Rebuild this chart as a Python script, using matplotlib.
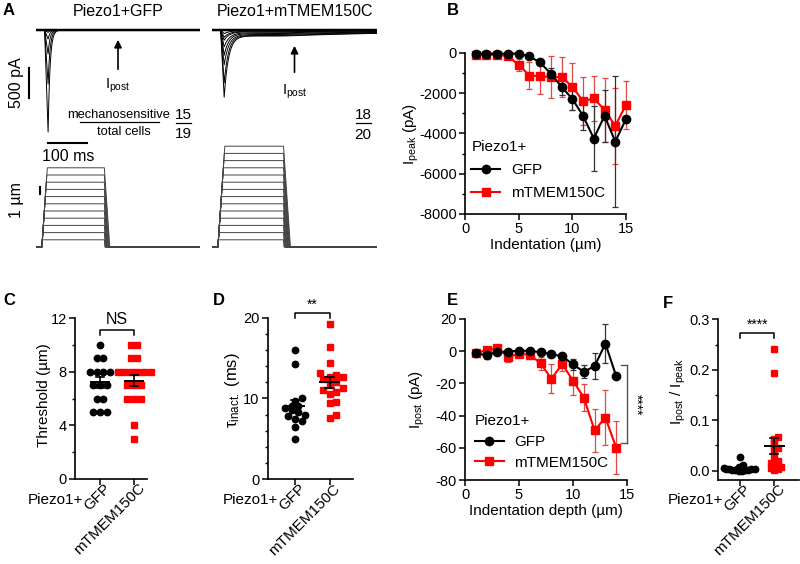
import numpy as np
import matplotlib.pyplot as plt
from matplotlib.lines import Line2D
from matplotlib.ticker import MultipleLocator, FormatStrFormatter
from matplotlib.transforms import ScaledTranslation

W, H = 800, 564
plt.rcParams['font.family'] = ['Liberation Sans', 'DejaVu Sans']
plt.rcParams['mathtext.fontset'] = 'custom'
plt.rcParams['mathtext.rm'] = 'Liberation Sans'
plt.rcParams['mathtext.it'] = 'Liberation Sans:italic'
plt.rcParams['mathtext.default'] = 'regular'
plt.rcParams['axes.unicode_minus'] = False
plt.rcParams['axes.linewidth'] = 1.2

RED = '#ff0000'
ERR_RED = '#e04848'

# ---- panel A: example sweeps (amplitudes pA, decay ms, sustained pA) ----
gfp_amp = [40, 150, 400, 900, 1700]
gfp_tau = [5, 5, 5, 5, 5]
gfp_post = [0, 0, 0, 0, 0]
tmem_amp = [60, 120, 170, 280, 420, 580, 880, 1120]
tmem_tau = [14, 14, 13, 13, 12, 12, 11, 11]
tmem_post = [10, 20, 30, 45, 60, 75, 90, 100]
gfp_steps = np.arange(1, 12)      # um
tmem_steps = np.arange(1, 15)     # um
ms_fraction = ['15', '19']
ms_fraction_tmem = ['18', '20']

# ---- panel B: peak current vs indentation ----
depth = np.arange(1, 16)
peak_gfp = [-30, -30, -30, -30, -30, -170, -470, -1030, -1680, -2280, -3120, -4250, -3120, -4400, -3280]
peak_gfp_sem = [20, 20, 20, 20, 30, 60, 150, 300, 400, 550, 700, 1600, 1300, 3250, 120]
peak_tmem = [-80, -80, -80, -170, -580, -1120, -1150, -1200, -1200, -1670, -2400, -2250, -2830, -3620, -2570]
peak_tmem_sem = [20, 20, 20, 60, 290, 670, 870, 1050, 1000, 1170, 1200, 1130, 1600, 1900, 1200]

# ---- panel E: post current vs indentation ----
post_depth = np.arange(1, 15)
post_gfp = [-1.4, -2.5, -0.4, -0.2, 0.3, 0.2, -0.6, -1.9, -3.1, -8.2, -12.8, -9.3, 4.7, -15.5]
post_gfp_sem = [1.5, 2.5, 0.8, 0.6, 0.6, 0.6, 0.8, 1.2, 1.5, 3.5, 4.0, 8.0, 12.3, 1.0]
post_tmem = [-1.0, 0.5, 2.0, -3.7, -1.5, -2.2, -7.5, -17.2, -8.0, -18.3, -28.8, -49.2, -41.2, -60.0]
post_tmem_sem = [1.0, 1.0, 1.0, 3.0, 1.5, 1.5, 4.0, 9.0, 4.0, 9.0, 8.5, 13.4, 17.0, 16.5]

# ---- panels C, D, F: per-cell values ----
groups = ['GFP', 'mTMEM150C']
thr_gfp = [10, 9, 9, 8, 8, 8, 8, 7, 7, 7, 6, 6, 5, 5, 5]
thr_tmem = [10, 10, 9, 9, 8, 8, 8, 8, 8, 8, 7, 7, 7, 6, 6, 6, 4, 3]
tau_gfp = [16.0, 14.2, 10.0, 9.7, 9.0, 9.0, 8.8, 8.6, 8.3, 8.0, 7.8, 7.5, 7.2, 6.5, 5.0]
tau_tmem = [19.2, 16.3, 14.4, 13.2, 12.9, 12.7, 12.6, 12.4, 12.0, 11.7, 11.3, 11.0, 10.8, 10.5,
            9.6, 9.4, 7.9, 7.6]
ratio_gfp = [0.027, 0.012, 0.008, 0.006, 0.005, 0.004, 0.004, 0.003, 0.003, 0.002, 0.002,
             0.001, 0.001, 0.0, 0.0]
ratio_tmem = [0.241, 0.193, 0.066, 0.062, 0.055, 0.048, 0.045, 0.040, 0.030, 0.020, 0.018,
              0.015, 0.012, 0.010, 0.008, 0.005, 0.003, 0.002]

fig = plt.figure(figsize=(W / 100, H / 100), dpi=100)


def px_axes(left, top, right, bottom):
    return fig.add_axes([left / W, 1 - bottom / H, (right - left) / W, (bottom - top) / H])


def ftext(x, y, s, **kw):
    return fig.text(x / W, 1 - y / H, s, **kw)


def fline(x0, x1, y0, y1, **kw):
    fig.add_artist(Line2D([x0 / W, x1 / W], [1 - y0 / H, 1 - y1 / H],
                          transform=fig.transFigure, color='k', **kw))


def style(ax):
    for s in ['top', 'right']:
        ax.spines[s].set_visible(False)
    ax.tick_params(direction='out', length=4, width=1.1, labelsize=10.5, pad=2)
    ax.tick_params(which='minor', direction='out', length=2.5, width=1)


# ================= panel A =================
t = np.linspace(0, 420, 2101)


def sweep(amp, tau, post, t_off):
    t_start, t_pk = 22.0, 31.0
    i = np.zeros_like(t)
    r = (t >= t_start) & (t < t_pk)
    i[r] = -amp * (t[r] - t_start) / (t_pk - t_start)
    d = t >= t_pk
    i[d] = -(amp - post) * np.exp(-(t[d] - t_pk) / tau) - post
    a = t >= t_off
    i[a] = i[a] * np.exp(-(t[a] - t_off) / 400)
    return i


def stim(d, t_off):
    t_on, speed = 15.0, 0.8
    return np.interp(t, [0, t_on, t_on + d / speed, t_off, t_off + d / speed, 420],
                     [0, 0, d, d, 0, 0])


cur_l = px_axes(36, 20, 200, 140)
cur_r = px_axes(212, 20, 377, 140)
stim_l = px_axes(36, 140, 200, 250)
stim_r = px_axes(212, 140, 377, 250)
for ax in [cur_l, cur_r]:
    ax.set_xlim(0, 420)
    ax.set_ylim(-1833, 167)
    ax.axis('off')
for ax in [stim_l, stim_r]:
    ax.set_xlim(0, 420)
    ax.set_ylim(-0.417, 14.86)
    ax.axis('off')

cur_l.plot(t, np.zeros_like(t), color='k', lw=1.8)
for a, tau, p in zip(gfp_amp, gfp_tau, gfp_post):
    cur_l.plot(t, sweep(a, tau, p, 175), color='k', lw=0.7)
for a, tau, p in zip(tmem_amp, tmem_tau, tmem_post):
    cur_r.plot(t, sweep(a, tau, p, 182), color='k', lw=0.7)
cur_r.plot(t, np.zeros_like(t), color='k', lw=1.8)
for d in gfp_steps:
    stim_l.plot(t, stim(d, 175), color='#444444', lw=0.7)
for d in tmem_steps:
    stim_r.plot(t, stim(d, 182), color='#444444', lw=0.7)

# scale bars
cur_l.plot([-18, -18], [-633, -1133], color='k', lw=1.5, clip_on=False)
cur_l.plot([31, 131], [-1883, -1883], color='k', lw=1.5, clip_on=False)
stim_l.plot([10, 10], [7.4, 8.4], color='k', lw=1.5, clip_on=False)
ftext(17, 83, '500 pA', rotation=90, ha='center', va='center', fontsize=11.5)
ftext(68, 156, '100 ms', ha='center', va='center', fontsize=11.5)
ftext(17, 200, '1 µm', rotation=90, ha='center', va='center', fontsize=11.5)

for ax, y0, y1 in [(cur_l, -700, -117), (cur_r, -750, -217)]:
    ax.annotate('', xy=(210, y1), xytext=(210, y0),
                arrowprops=dict(arrowstyle='-|>', color='k', lw=1.2, mutation_scale=11))
ftext(118, 86, 'I$_{post}$', ha='center', va='center', fontsize=10.5)
ftext(295, 92, 'I$_{post}$', ha='center', va='center', fontsize=10.5)

ftext(118, 11, 'Piezo1+GFP', ha='center', va='center', fontsize=11.5)
ftext(295, 11, 'Piezo1+mTMEM150C', ha='center', va='center', fontsize=11.5)

ftext(119, 115, 'mechanosensitive', ha='center', va='center', fontsize=9.3)
fline(80, 159, 122, 122, lw=0.9)
ftext(124, 132, 'total cells', ha='center', va='center', fontsize=9.3)
ftext(183, 115, ms_fraction[0], ha='center', va='center', fontsize=11)
fline(176, 191, 123, 123, lw=0.9)
ftext(183, 134, ms_fraction[1], ha='center', va='center', fontsize=11)
ftext(363, 115, ms_fraction_tmem[0], ha='center', va='center', fontsize=11)
fline(356, 371, 123, 123, lw=0.9)
ftext(363, 135, ms_fraction_tmem[1], ha='center', va='center', fontsize=11)

# ================= panel B =================
axB = px_axes(465, 53, 626, 214)
style(axB)
axB.errorbar(depth, peak_tmem, yerr=peak_tmem_sem, fmt='none', ecolor=ERR_RED, elinewidth=0.9,
             capsize=2, capthick=0.9, clip_on=False)
axB.errorbar(depth, peak_gfp, yerr=peak_gfp_sem, fmt='none', ecolor='#333333', elinewidth=0.9,
             capsize=2, capthick=0.9, clip_on=False)
axB.plot(depth, peak_gfp, '-o', color='k', lw=1.5, ms=6, clip_on=False, zorder=4, label='GFP')
axB.plot(depth, peak_tmem, '-s', color=RED, lw=1.5, ms=5.5, clip_on=False, zorder=3,
         label='mTMEM150C')
axB.set_xlim(0, 15)
axB.set_ylim(-8000, 0)
axB.set_xticks([0, 5, 10, 15])
axB.set_yticks([0, -2000, -4000, -6000, -8000])
axB.yaxis.set_minor_locator(MultipleLocator(1000))
axB.set_xlabel('Indentation (µm)', fontsize=11, labelpad=1)
axB.set_ylabel('I$_{peak}$ (pA)', fontsize=11)
axB.yaxis.set_label_coords(-0.275, 0.5)
axB.legend(title='Piezo1+', loc='upper left', bbox_to_anchor=(0.04, 0.46), frameon=False,
           fontsize=11, title_fontsize=11, handlelength=1.9, handletextpad=0.7,
           borderpad=0, borderaxespad=0, labelspacing=0.6, alignment='left')

# ================= panel E =================
axE = px_axes(465, 319, 627, 480)
style(axE)
axE.errorbar(post_depth, post_tmem, yerr=post_tmem_sem, fmt='none', ecolor=ERR_RED,
             elinewidth=0.9, capsize=2, capthick=0.9)
axE.errorbar(post_depth, post_gfp, yerr=post_gfp_sem, fmt='none', ecolor='#333333',
             elinewidth=0.9, capsize=2, capthick=0.9)
axE.plot(post_depth, post_gfp, '-o', color='k', lw=1.5, ms=6, zorder=4, label='GFP')
axE.plot(post_depth, post_tmem, '-s', color=RED, lw=1.5, ms=5.5, zorder=3, label='mTMEM150C')
axE.set_xlim(0, 15)
axE.set_ylim(-80, 20)
axE.set_xticks([0, 5, 10, 15])
axE.set_yticks([20, 0, -20, -40, -60, -80])
axE.set_xlabel('Indentation depth (µm)', fontsize=11, labelpad=1)
axE.set_ylabel('I$_{post}$ (pA)', fontsize=11)
axE.yaxis.set_label_coords(-0.235, 0.5)
axE.legend(title='Piezo1+', loc='upper left', bbox_to_anchor=(0.06, 0.41), frameon=False,
           fontsize=11, title_fontsize=11, handlelength=1.9, handletextpad=0.7,
           borderpad=0, borderaxespad=0, labelspacing=0.45, alignment='left')
axE.plot([15, 15], [-8.8, -57], color='#555555', lw=1, clip_on=False)
axE.plot([14.4, 15], [-8.8, -8.8], color='#555555', lw=1, clip_on=False)
axE.plot([14.4, 15], [-57, -57], color='#555555', lw=1, clip_on=False)
axE.text(15.85, -33, '****', rotation=270, ha='center', va='center', fontsize=10)


# ================= panels C, D, F =================
def swarm_x(ax, values, center, size_px):
    y = ax.transData.transform(np.column_stack([np.zeros(len(values)), values]))[:, 1]
    xs = np.zeros(len(values))
    placed = []
    cands = [0.0]
    for k in range(1, 40):
        cands += [k * size_px / 2, -k * size_px / 2]
    for i in np.argsort(y, kind='stable'):
        for c in cands:
            if all((c - px) ** 2 + (y[i] - py) ** 2 >= (0.999 * size_px) ** 2 for px, py in placed):
                xs[i] = c
                placed.append((c, y[i]))
                break
    vals = np.asarray(values)
    for v in np.unique(vals):
        m = vals == v
        if m.sum() > 1:
            xs[m] -= xs[m].mean()
    x0 = ax.transData.transform((0, 0))[0]
    x1 = ax.transData.transform((1, 0))[0]
    return center + xs / (x1 - x0)


def dot_panel(ax, gfp_vals, tmem_vals, size_px):
    for k, (vals, mk, col) in enumerate([(gfp_vals, 'o', 'k'), (tmem_vals, 's', RED)]):
        xs = swarm_x(ax, vals, k, size_px)
        ax.plot(xs, vals, mk, color=col, ms=4.6 if mk == 'o' else 4.3, ls='none',
                clip_on=False, zorder=2)
        v = np.asarray(vals, dtype=float)
        mean = v.mean()
        sem = v.std(ddof=1) / np.sqrt(len(v))
        ax.plot([k - 0.27, k + 0.27], [mean, mean], color='k', lw=1.4, zorder=3)
        ax.plot([k, k], [mean - sem, mean + sem], color='k', lw=1.2, zorder=3)
        for yy in [mean - sem, mean + sem]:
            ax.plot([k - 0.12, k + 0.12], [yy, yy], color='k', lw=1.2, zorder=3)
    ax.set_xticks([0, 1])
    ax.set_xticklabels(groups, rotation=45, ha='right', va='center', rotation_mode='anchor',
                       fontsize=11)
    ax.tick_params(axis='x', pad=1)
    shift = ScaledTranslation(6 / 72, 0, fig.dpi_scale_trans)
    for lab in ax.get_xticklabels():
        lab.set_transform(lab.get_transform() + shift)


def bracket(ax, y_top, y_low, txt, ty, fs=11):
    ax.plot([0, 0, 1, 1], [y_low, y_top, y_top, y_low], color='k', lw=1.1, clip_on=False)
    ax.text(0.5, ty, txt, ha='center', va='bottom', fontsize=fs)


axC = px_axes(75, 318, 147, 479)
style(axC)
axC.set_xlim(-0.735, 1.38)
axC.set_ylim(0, 12)
axC.set_yticks([0, 4, 8, 12])
axC.yaxis.set_minor_locator(MultipleLocator(2))
dot_panel(axC, thr_gfp, thr_tmem, 6.6)
axC.set_ylabel('Threshold (µm)', fontsize=11)
axC.yaxis.set_label_coords(-0.33, 0.52)
bracket(axC, 11.1, 10.7, 'NS', 11.35, fs=11.5)

axD = px_axes(268, 317.5, 353, 479.3)
style(axD)
axD.set_xlim(-0.78, 1.68)
axD.set_ylim(0, 20)
axD.set_yticks([0, 10, 20])
axD.yaxis.set_minor_locator(MultipleLocator(2))
dot_panel(axD, tau_gfp, tau_tmem, 6.6)
axD.set_ylabel(r'$\tau_{inact.}$ (ms)', fontsize=12)
axD.yaxis.set_label_coords(-0.31, 0.55)
bracket(axD, 20.6, 19.9, '**', 20.75, fs=10)

axF = px_axes(718, 319.3, 799, 480)
style(axF)
axF.set_xlim(-0.65, 1.72)
axF.set_ylim(-0.0185, 0.3)
axF.set_yticks([0.0, 0.1, 0.2, 0.3])
axF.yaxis.set_major_formatter(FormatStrFormatter('%.1f'))
axF.yaxis.set_minor_locator(MultipleLocator(0.05))
dot_panel(axF, ratio_gfp, ratio_tmem, 3.2)
axF.set_ylabel('I$_{post}$ / I$_{peak}$', fontsize=11)
axF.yaxis.set_label_coords(-0.37, 0.55)
bracket(axF, 0.272, 0.263, '****', 0.276, fs=10)

for x in [55, 250, 695]:
    ftext(x, 500, 'Piezo1+', ha='center', va='center', fontsize=11)

# panel letters
for x, y, s in [(3, 3, 'A'), (447, 3, 'B'), (3, 293, 'C'), (213, 293, 'D'), (447, 293, 'E'),
                (663, 296, 'F')]:
    ftext(x, y, s, ha='left', va='top', fontsize=12, fontweight='bold')

fig.savefig('out.png', dpi=100)
